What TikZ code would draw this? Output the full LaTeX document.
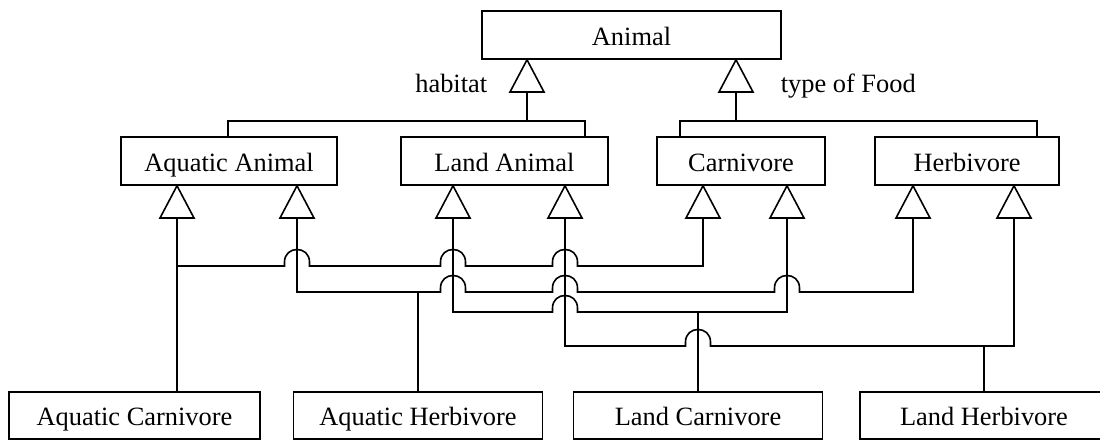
\documentclass[tikz,border=0pt]{standalone}
\usepackage{fontspec}
\setmainfont{Liberation Serif}
\begin{document}
\begin{tikzpicture}[x=1pt,y=-1pt,line width=1.6pt,line join=miter,
  box/.style={draw,rectangle,inner sep=0pt,text height=20pt,text depth=0pt,font=\fontsize{26.4pt}{30pt}\selectfont},
  lbl/.style={inner sep=0pt,font=\fontsize{26.4pt}{30pt}\selectfont},
  gentri/.style={draw,fill=white},
  jumpover/.style 2 args={insert path={-- (#1-12.5,#2) -- (#1-12.5,#2-4) .. controls (#1-12.5,#2-20.7) and (#1+12.5,#2-20.7) .. (#1+12.5,#2-4) -- (#1+12.5,#2)}}]
\useasboundingbox (0,0) rectangle (1100,442);

% boxes
\node[box,minimum width=299pt,minimum height=48pt] (animal) at (631.5,35) {Animal};
\node[box,minimum width=216pt,minimum height=48pt] (aqa) at (229,161) {Aquatic Animal};
\node[box,minimum width=207pt,minimum height=48pt] (lan) at (504.5,161) {Land Animal};
\node[box,minimum width=168pt,minimum height=48pt] (car) at (741,161) {Carnivore};
\node[box,minimum width=184pt,minimum height=48pt] (her) at (967,161) {Herbivore};
\node[box,minimum width=251pt,minimum height=47pt] (aqc) at (134.5,415.5) {Aquatic Carnivore};
\node[box,minimum width=249pt,minimum height=47pt] (aqh) at (418,415.5) {Aquatic Herbivore};
\node[box,minimum width=249pt,minimum height=47pt] (lac) at (698,415.5) {Land Carnivore};
\node[box,minimum width=248pt,minimum height=47pt] (lah) at (984,415.5) {Land Herbivore};

% labels
\node[lbl,anchor=base east] (hablbl) at (488,92) {habitat};
\node[lbl,anchor=base west] (foodlbl) at (780,92) {type of Food};

% top generalisations
\coordinate (tHab) at (527,92);
\coordinate (tFood) at (736,92);
\coordinate (hx1) at (228,121);
\coordinate (hx2) at (585,121);
\coordinate (fx1) at (680,121);
\coordinate (fx2) at (1037,121);
\draw (tHab) |- (hx1) -- (aqa.north -| hx1);
\draw (tHab) |- (hx2) -- (lan.north -| hx2);
\draw (tFood) |- (fx1) -- (car.north -| fx1);
\draw (tFood) |- (fx2) -- (her.north -| fx2);
\draw[gentri] (animal.south -| tHab) -- (510,92) -- (544,92) -- cycle;
\draw[gentri] (animal.south -| tFood) -- (719,92) -- (753,92) -- cycle;

% lower triangle bases
\coordinate (m1) at (177,218);
\coordinate (m2) at (297,218);
\coordinate (m3) at (453,218);
\coordinate (m4) at (565,218);
\coordinate (m5) at (703,218);
\coordinate (m6) at (787,218);
\coordinate (m7) at (913,218);
\coordinate (m8) at (1014,218);
\coordinate (yA) at (0,266);
\coordinate (yB) at (0,292);
\coordinate (yC) at (0,312);
\coordinate (yD) at (0,346);

% Aquatic Carnivore
\draw (m1) -- (aqc.north -| m1);
\draw (m1 |- yA) [jumpover={297}{266}] [jumpover={453}{266}] [jumpover={565}{266}] -- (m5 |- yA) -- (m5);
% Aquatic Herbivore
\draw (m2) -- (m2 |- yB) [jumpover={453}{292}] [jumpover={565}{292}] [jumpover={787}{292}] -- (m7 |- yB) -- (m7);
\draw (aqh.north) -- (aqh.north |- yB);
% Land Carnivore
\draw (m3) -- (m3 |- yC) [jumpover={565}{312}] -- (m6 |- yC) -- (m6);
\draw (lac.north) -- (lac.north |- yC);
% Land Herbivore
\draw (m4) -- (m4 |- yD) [jumpover={698}{346}] -- (m8 |- yD) -- (m8);
\draw (lah.north) -- (lah.north |- yD);

% lower triangles
\foreach \p/\b in {m1/aqa,m2/aqa,m3/lan,m4/lan,m5/car,m6/car,m7/her,m8/her}{
  \draw[gentri] (\b.south -| \p) -- ([xshift=-17pt]\p) -- ([xshift=17pt]\p) -- cycle;
}
\end{tikzpicture}
\end{document}
